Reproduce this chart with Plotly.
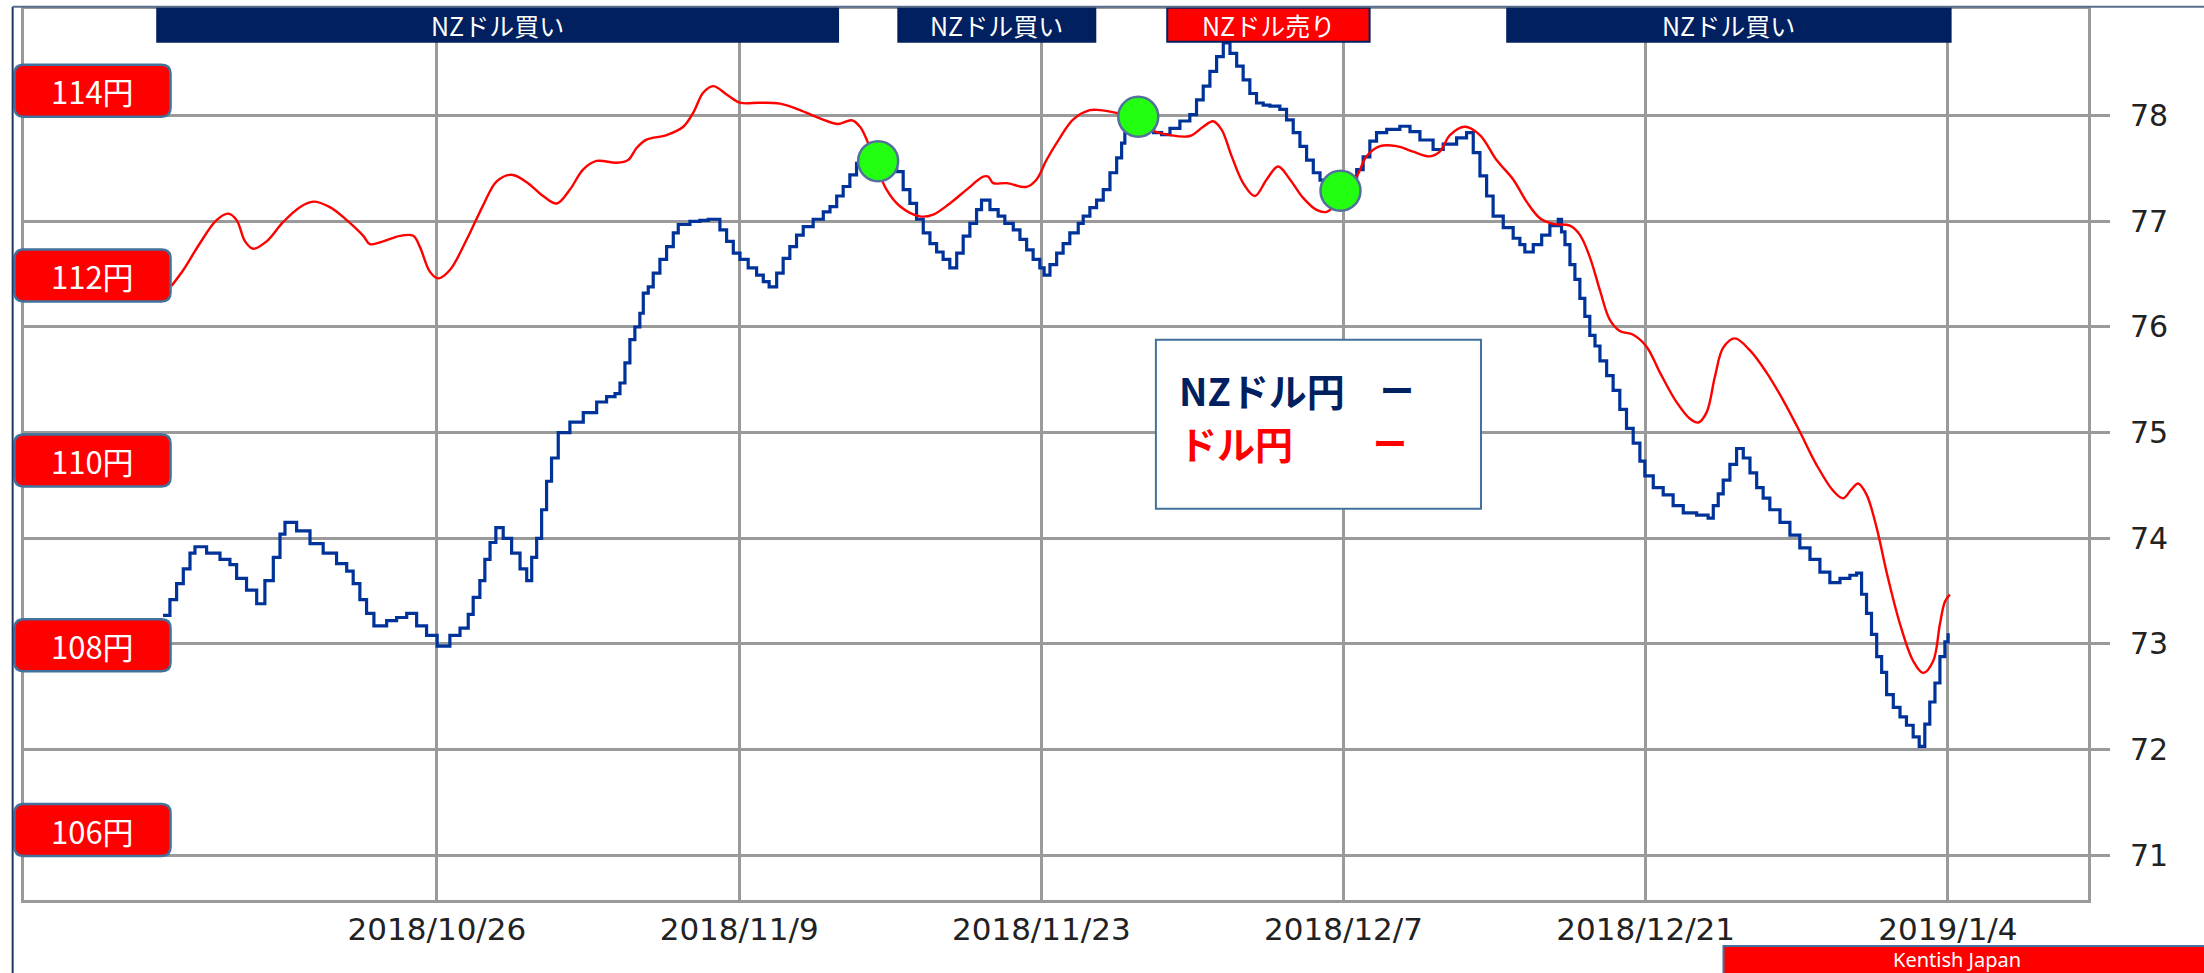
import plotly.graph_objects as go
import pandas as pd

# ---------------- data ----------------
BASE_DATE = "2018-10-26"

# NZD/JPY (right axis) : day offset from BASE_DATE, rate
nzd_day = [-12.69, -12.37, -12.06, -11.75, -11.44, -11.21, -10.67, -10.05, -9.59, -9.28,
           -8.82, -8.35, -7.97, -7.58, -7.27, -7.04, -6.50, -5.88, -5.27, -4.65,
           -4.18, -3.88, -3.57, -3.26, -2.92, -2.33, -1.87, -1.40, -0.94, -0.48,
           0.01, 0.60, 1.07, 1.45, 1.68, 1.99, 2.22, 2.46, 2.73, 3.07,
           3.46, 3.85, 4.16, 4.39, 4.62, 4.85, 5.08, 5.31, 5.62, 6.16,
           6.78, 7.40, 7.86, 8.25, 8.48, 8.71, 8.94, 9.17, 9.40, 9.56,
           9.79, 10.02, 10.33, 10.64, 10.95, 11.18, 11.72, 12.18, 12.57, 12.80,
           13.11, 13.42, 13.73, 14.04, 14.42, 14.81, 15.12, 15.39, 15.74, 16.04,
           16.35, 16.66, 16.97, 17.43, 17.90, 18.21, 18.52, 18.82, 19.13, 19.44,
           19.75, 20.29, 20.70, 21.00, 21.30, 21.60, 21.91, 22.22, 22.53, 22.84,
           23.15, 23.45, 23.76, 24.08, 24.38, 24.69, 25.00, 25.23, 25.62, 26.00,
           26.31, 26.70, 27.01, 27.32, 27.62, 27.93, 28.13, 28.40, 28.71, 29.01,
           29.32, 29.71, 29.94, 30.25, 30.56, 30.87, 31.18, 31.49, 31.72, 31.87,
           32.20, 32.50, 32.80, 33.20, 33.57, 33.96, 34.42, 34.88, 35.19, 35.50,
           35.81, 36.12, 36.43, 36.74, 37.05, 37.35, 37.66, 37.97, 38.28, 38.59,
           39.05, 39.36, 39.67, 39.98, 40.29, 40.60, 40.91, 41.37, 41.80, 42.06,
           42.30, 42.61, 42.91, 43.22, 43.53, 44.00, 44.61, 45.08, 45.54, 46.15,
           46.62, 47.24, 47.70, 48.01, 48.32, 48.63, 48.93, 49.40, 49.86, 50.17,
           50.40, 50.79, 51.18, 51.56, 51.95, 52.10, 52.26, 52.49, 52.72, 52.95,
           53.18, 53.41, 53.65, 53.88, 54.19, 54.49, 54.80, 55.11, 55.42, 55.73,
           55.96, 56.35, 56.81, 57.27, 57.74, 58.36, 58.89, 59.13, 59.36, 59.59,
           59.90, 60.21, 60.52, 60.83, 61.14, 61.44, 61.75, 62.22, 62.68, 63.14,
           63.61, 64.07, 64.53, 65.00, 65.46, 65.77, 66.00, 66.23, 66.46, 66.70,
           66.93, 67.16, 67.47, 67.78, 68.08, 68.39, 68.67, 68.93, 69.16, 69.40,
           69.63, 69.86, 70.01]
nzd_val = [73.27, 73.42, 73.57, 73.71, 73.86, 73.92, 73.86, 73.80, 73.75, 73.62,
           73.51, 73.38, 73.60, 73.82, 74.04, 74.15, 74.07, 73.95, 73.86, 73.76,
           73.69, 73.57, 73.42, 73.29, 73.17, 73.22, 73.25, 73.29, 73.17, 73.08,
           72.98, 73.08, 73.15, 73.28, 73.44, 73.60, 73.80, 73.96, 74.10, 74.00,
           73.86, 73.71, 73.60, 73.82, 74.00, 74.27, 74.54, 74.76, 75.00, 75.10,
           75.19, 75.29, 75.34, 75.37, 75.47, 75.66, 75.88, 76.00, 76.13, 76.32,
           76.38, 76.51, 76.64, 76.76, 76.89, 76.97, 77.00, 77.01, 77.02, 77.02,
           76.92, 76.81, 76.70, 76.64, 76.56, 76.49, 76.43, 76.38, 76.51, 76.65,
           76.76, 76.87, 76.95, 77.02, 77.09, 77.14, 77.24, 77.33, 77.44, 77.55,
           77.61, 77.66, 77.68, 77.58, 77.47, 77.30, 77.17, 77.02, 76.89, 76.79,
           76.71, 76.64, 76.56, 76.70, 76.86, 76.98, 77.11, 77.20, 77.11, 77.05,
           76.98, 76.92, 76.83, 76.73, 76.64, 76.56, 76.49, 76.59, 76.70, 76.79,
           76.89, 76.98, 77.05, 77.13, 77.20, 77.30, 77.46, 77.60, 77.74, 77.84,
           77.95, 77.97, 77.90, 77.84, 77.82, 77.88, 77.95, 78.01, 78.15, 78.28,
           78.42, 78.56, 78.69, 78.59, 78.47, 78.34, 78.21, 78.12, 78.10, 78.09,
           78.06, 77.96, 77.84, 77.71, 77.58, 77.46, 77.39, 77.33, 77.30, 77.35,
           77.42, 77.49, 77.61, 77.76, 77.84, 77.87, 77.90, 77.85, 77.77, 77.68,
           77.73, 77.79, 77.84, 77.65, 77.43, 77.24, 77.05, 76.94, 76.84, 76.78,
           76.71, 76.78, 76.87, 76.96, 77.02, 76.90, 76.78, 76.59, 76.45, 76.27,
           76.10, 75.92, 75.82, 75.68, 75.54, 75.40, 75.22, 75.04, 74.90, 74.73,
           74.59, 74.48, 74.41, 74.31, 74.24, 74.22, 74.19, 74.31, 74.42, 74.55,
           74.70, 74.85, 74.76, 74.62, 74.48, 74.38, 74.27, 74.15, 74.03, 73.91,
           73.80, 73.68, 73.58, 73.62, 73.65, 73.67, 73.47, 73.29, 73.09, 72.88,
           72.73, 72.52, 72.40, 72.31, 72.23, 72.12, 72.03, 72.24, 72.45, 72.63,
           72.88, 73.02, 73.10]

# USD/JPY (left axis)
usd_day = [-12.29, -11.75, -10.98, -10.21, -9.67, -9.28, -8.89, -8.51, -7.89, -7.12,
           -6.35, -5.73, -4.96, -4.18, -3.41, -3.10, -2.49, -1.71, -1.10, -0.79,
           -0.32, 0.06, 0.60, 1.38, 2.14, 2.77, 3.46, 4.16, 4.92, 5.55,
           6.16, 6.78, 7.40, 8.32, 8.86, 9.25, 9.71, 10.64, 11.41, 11.87,
           12.34, 12.80, 13.42, 14.04, 14.96, 15.89, 16.82, 17.74, 18.59, 19.21,
           19.60, 19.91, 20.37, 20.83, 21.45, 22.38, 22.99, 23.76, 24.54, 25.31,
           25.54, 25.77, 26.39, 27.32, 27.78, 28.24, 28.86, 29.48, 30.25, 30.71,
           31.49, 32.26, 33.03, 33.96, 34.88, 35.50, 35.96, 36.35, 36.82, 37.35,
           37.89, 38.44, 38.97, 39.52, 40.13, 40.75, 41.22, 41.83, 42.61, 43.07,
           43.69, 44.46, 45.23, 46.00, 46.46, 46.93, 47.62, 48.32, 49.09, 49.86,
           50.48, 51.10, 51.71, 52.49, 52.95, 53.41, 53.88, 54.34, 54.80, 55.42,
           56.04, 56.66, 57.43, 58.05, 58.43, 58.82, 59.21, 59.59, 60.13, 60.83,
           61.60, 62.37, 63.14, 63.92, 64.69, 65.15, 65.54, 65.84, 66.23, 66.70,
           67.16, 67.78, 68.39, 68.85, 69.32, 69.63, 69.86, 70.09]
usd_val = [111.89, 112.06, 112.35, 112.60, 112.67, 112.60, 112.37, 112.29, 112.37, 112.58,
           112.74, 112.80, 112.74, 112.60, 112.43, 112.34, 112.37, 112.43, 112.43, 112.31,
           112.04, 111.97, 112.06, 112.39, 112.76, 113.02, 113.09, 113.01, 112.86, 112.78,
           112.93, 113.15, 113.24, 113.22, 113.25, 113.38, 113.47, 113.52, 113.61, 113.76,
           113.98, 114.05, 113.96, 113.87, 113.87, 113.86, 113.79, 113.70, 113.64, 113.68,
           113.61, 113.47, 113.18, 112.93, 112.75, 112.64, 112.66, 112.78, 112.93, 113.07,
           113.07, 113.00, 113.00, 112.96, 113.04, 113.25, 113.49, 113.69, 113.79, 113.79,
           113.76, 113.72, 113.58, 113.52, 113.51, 113.61, 113.67, 113.58, 113.29, 113.00,
           112.86, 113.04, 113.18, 113.04, 112.84, 112.71, 112.69, 112.82, 113.07, 113.29,
           113.40, 113.40, 113.34, 113.29, 113.34, 113.52, 113.61, 113.52, 113.25, 113.04,
           112.80, 112.62, 112.56, 112.54, 112.44, 112.20, 111.84, 111.52, 111.40, 111.36,
           111.23, 110.95, 110.63, 110.45, 110.41, 110.52, 110.91, 111.22, 111.32, 111.19,
           110.95, 110.65, 110.31, 109.95, 109.67, 109.59, 109.69, 109.75, 109.63, 109.27,
           108.79, 108.23, 107.83, 107.70, 107.83, 108.23, 108.47, 108.55]

# signal points (on NZD/JPY)
signal_day = [20.44, 32.49, 41.86]
signal_val = [77.57, 77.99, 77.29]

# x-axis ticks
tick_dates = ["2018-10-26", "2018-11-09", "2018-11-23", "2018-12-07", "2018-12-21", "2019-01-04"]
tick_text = ["2018/10/26", "2018/11/9", "2018/11/23", "2018/12/7", "2018/12/21", "2019/1/4"]
nzd_ticks = [71, 72, 73, 74, 75, 76, 77, 78]
usd_labels = [114, 112, 110, 108, 106]

# top banners
banner_text = ["NZドル買い", "NZドル買い", "NZドル売り", "NZドル買い"]
banner_start = ["2018-10-13 01:00", "2018-11-16 09:00", "2018-11-28 20:00", "2018-12-14 14:00"]
banner_end = ["2018-11-13 14:00", "2018-11-25 12:00", "2018-12-08 05:00", "2019-01-04 03:00"]
banner_fill = ["#002060", "#002060", "#FF0000", "#002060"]

# ---------------- helpers ----------------
base = pd.Timestamp(BASE_DATE)


def to_dates(days):
    return [base + pd.Timedelta(days=d) for d in days]


NAVY = "#002060"
BLUE = "#003399"
GRID = "#9A9A9A"
STEEL = "#41719C"

fig = go.Figure()
fig.add_trace(go.Scatter(x=to_dates(nzd_day), y=nzd_val, mode="lines", name="NZドル円",
                         line=dict(color=BLUE, width=3.2, shape="hv"), yaxis="y"))
fig.add_trace(go.Scatter(x=to_dates(usd_day), y=usd_val, mode="lines", name="ドル円",
                         line=dict(color="#FF0000", width=2.4, shape="spline", smoothing=1.0),
                         yaxis="y2"))

shapes = []
annotations = []

# signal circles
for d, v in zip(to_dates(signal_day), signal_val):
    shapes.append(dict(type="circle", xref="x", yref="y", xsizemode="pixel", ysizemode="pixel",
                       xanchor=d, yanchor=v, x0=-20, x1=20, y0=-20, y1=20,
                       fillcolor="#22FF11", line=dict(color="#52719C", width=2.5), layer="above"))

# left price boxes (rounded)
w, h, r = 78, 26, 9
rr = (f"M {-w + r},{-h} L {w - r},{-h} Q {w},{-h} {w},{-h + r} L {w},{h - r} Q {w},{h} {w - r},{h} "
      f"L {-w + r},{h} Q {-w},{h} {-w},{h - r} L {-w},{-h + r} Q {-w},{-h} {-w + r},{-h} Z")
for val in usd_labels:
    shapes.append(dict(type="path", xref="paper", yref="y2", xsizemode="pixel", ysizemode="pixel",
                       xanchor=0.0332, yanchor=val, path=rr, fillcolor="#FF0000",
                       line=dict(color=STEEL, width=2.5), layer="above"))
    annotations.append(dict(xref="paper", yref="y2", x=0.0332, y=val, text=f"{val}円",
                            xanchor="center", yanchor="middle",
                            showarrow=False, font=dict(color="white", size=31,
                                                       family="Noto Sans CJK JP")))

# banners
for txt, s, e, c in zip(banner_text, banner_start, banner_end, banner_fill):
    ts, te = pd.Timestamp(s), pd.Timestamp(e)
    shapes.append(dict(type="rect", xref="x", yref="paper", x0=ts, x1=te, y0=0.9633, y1=1.0015,
                       fillcolor=c, line=dict(color=NAVY, width=2), layer="above"))
    annotations.append(dict(xref="x", yref="paper", x=ts + (te - ts) / 2, y=0.9824, text=txt,
                            xanchor="center", yanchor="middle",
                            showarrow=False, font=dict(color="white", size=25,
                                                       family="Noto Sans CJK JP")))

# legend box
shapes.append(dict(type="rect", xref="paper", yref="paper", x0=0.5484, x1=0.7059, y0=0.439, y1=0.6287,
                   fillcolor="white", line=dict(color=STEEL, width=2), layer="above"))
annotations += [
    dict(xref="paper", yref="paper", x=0.5586, y=0.5725, xanchor="left", yanchor="middle",
         text="<b>NZドル円</b>",
         showarrow=False, font=dict(color=NAVY, size=38, family="Noto Sans CJK JP")),
    dict(xref="paper", yref="paper", x=0.6652, y=0.5725, xanchor="center", yanchor="middle",
         text="<b>ー</b>",
         showarrow=False, font=dict(color=NAVY, size=34, family="Noto Sans CJK JP")),
    dict(xref="paper", yref="paper", x=0.5586, y=0.5130, xanchor="left", yanchor="middle",
         text="<b>ドル円</b>",
         showarrow=False, font=dict(color="#FF0000", size=38, family="Noto Sans CJK JP")),
    dict(xref="paper", yref="paper", x=0.6618, y=0.5130, xanchor="center", yanchor="middle",
         text="<b>ー</b>",
         showarrow=False, font=dict(color="#FF0000", size=34, family="Noto Sans CJK JP")),
]

# Kentish Japan box
shapes.append(dict(type="rect", xref="paper", yref="paper", x0=0.8234, x1=1.07, y0=-0.095, y1=-0.0516,
                   fillcolor="#FF0000", line=dict(color=STEEL, width=2), layer="above"))
annotations.append(dict(xref="paper", yref="paper", x=0.9365, y=-0.0668, xanchor="center",
                        yanchor="middle", text="Kentish Japan", showarrow=False,
                        font=dict(color="white", size=20, family="Noto Sans")))

# outer frame lines
shapes.append(dict(type="line", xref="paper", yref="paper", x0=-0.0055, x1=-0.0055, y0=1.0026, y1=-0.1,
                   line=dict(color="#1F3864", width=2)))
shapes.append(dict(type="line", xref="paper", yref="paper", x0=-0.0055, x1=1.06, y0=1.0026, y1=1.0026,
                   line=dict(color="#5A6E8C", width=2)))

x_start = base - pd.Timedelta(days=19.13)
x_end = base + pd.Timedelta(days=76.49)

fig.update_layout(
    width=2204, height=973,
    margin=dict(l=24, r=116, t=9, b=73, autoexpand=False),
    paper_bgcolor="white", plot_bgcolor="white",
    showlegend=False,
    font=dict(family="Noto Sans CJK JP", color="#222222"),
    xaxis=dict(type="date", range=[x_start, x_end], tickvals=pd.to_datetime(tick_dates),
               ticktext=tick_text, showgrid=True, gridcolor=GRID, gridwidth=3,
               showline=True, linecolor=GRID, linewidth=3, mirror=True, ticks="",
               tickfont=dict(family="DejaVu Sans", size=31, color="#222222"), zeroline=False),
    yaxis=dict(side="right", range=[70.576, 79.01], tickvals=nzd_ticks, showgrid=True,
               gridcolor=GRID, gridwidth=3, showline=True, linecolor=GRID, linewidth=3,
               mirror=True, ticks="outside", ticklen=19, tickwidth=3, tickcolor=GRID,
               ticklabelstandoff=14,
               tickfont=dict(family="DejaVu Sans", size=30, color="#222222"), zeroline=False),
    yaxis2=dict(overlaying="y", side="left", range=[105.244, 114.884], showgrid=False,
                showticklabels=False, ticks="", showline=False, zeroline=False),
    shapes=shapes,
    annotations=annotations,
)

fig.write_html("out.html", config={"displayModeBar": False},
               post_script="document.body.style.margin='0';document.body.style.overflow='hidden';")
